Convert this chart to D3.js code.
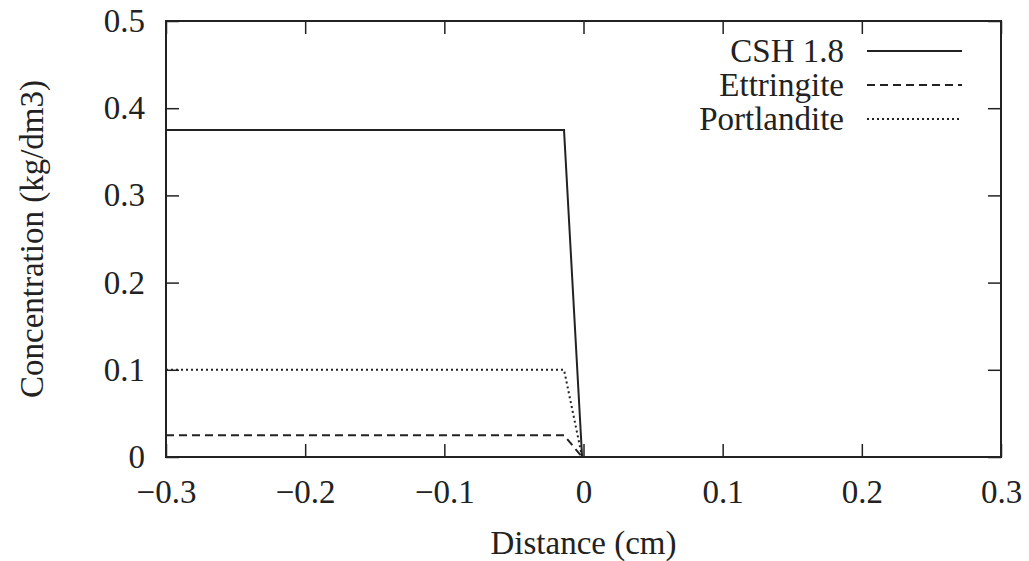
<!DOCTYPE html>
<html>
<head>
<meta charset="utf-8">
<script src="https://cdn.jsdelivr.net/npm/d3@7"></script>
<style>
  body { margin: 0; background: #fff; }
  svg text { font-family: "Liberation Serif", "Times New Roman", serif; fill: #222; }
</style>
</head>
<body>
<div class="chart"></div>
<script>
// distance (cm) and concentrations (kg/dm3)
const distance    = [-0.3, -0.014, -0.001, 0.3]
const csh         = [0.375, 0.375, 0, 0]
const ettringite  = [0.025, 0.025, 0, 0]
const portlandite = [0.1, 0.1, 0, 0]
const xTicks = [-0.3, -0.2, -0.1, 0, 0.1, 0.2, 0.3]
const yTicks = [0, 0.1, 0.2, 0.3, 0.4, 0.5]
const seriesNames = ['CSH 1.8', 'Ettringite', 'Portlandite']

const width = 1029
const height = 561
const margin = {top: 21, right: 28, bottom: 104, left: 166}
const plotW = width - margin.left - margin.right
const plotH = height - margin.top - margin.bottom
const tickLen = 13
const fontSize = 33

const series = [
  {name: seriesNames[0], values: csh, dash: null},
  {name: seriesNames[1], values: ettringite, dash: '8,5'},
  {name: seriesNames[2], values: portlandite, dash: '2,3'}
]

var xScale = d3.scaleLinear().domain([-0.3, 0.3]).range([0, plotW])
var yScale = d3.scaleLinear().domain([0, 0.5]).range([plotH, 0])

const fmt = d => d === 0 ? '0' : d3.format('.1f')(d).replace('-', '\u2212')

const svg = d3.select('.chart')
  .append('svg')
  .attr('width', width)
  .attr('height', height)

const g = svg.append('g')
  .attr('transform', 'translate(' + margin.left + ',' + margin.top + ')')

// axes with inward ticks, mirrored on top/right
g.append('g')
  .attr('transform', 'translate(0,' + plotH + ')')
  .call(d3.axisBottom(xScale).tickValues(xTicks).tickSize(-tickLen).tickPadding(23).tickFormat(fmt))
g.append('g')
  .call(d3.axisTop(xScale).tickValues(xTicks).tickSize(-tickLen).tickFormat(''))
g.append('g')
  .call(d3.axisLeft(yScale).tickValues(yTicks).tickSize(-tickLen).tickPadding(21).tickFormat(fmt))
g.append('g')
  .attr('transform', 'translate(' + plotW + ',0)')
  .call(d3.axisRight(yScale).tickValues(yTicks).tickSize(-tickLen).tickFormat(''))

g.selectAll('.domain').remove()
g.selectAll('.tick line').attr('stroke', '#222').attr('stroke-width', 1.5)
g.selectAll('.tick text').attr('font-size', fontSize).attr('fill', '#222')

// data lines
const line = d3.line()
  .x((d, i) => xScale(distance[i]))
  .y(d => yScale(d))

g.selectAll('.series')
  .data(series)
  .enter()
  .append('path')
  .attr('class', 'series')
  .attr('d', d => line(d.values))
  .attr('fill', 'none')
  .attr('stroke', '#222')
  .attr('stroke-width', 2)
  .attr('stroke-dasharray', d => d.dash)

// frame
g.append('rect')
  .attr('width', plotW)
  .attr('height', plotH)
  .attr('fill', 'none')
  .attr('stroke', '#222')
  .attr('stroke-width', 2)

// legend
var legend = g.selectAll('.legend')
  .data(series)
  .enter()
  .append('g')
  .attr('class', 'legend')
  .attr('transform', (d, i) => 'translate(0,' + (30 + i * 34) + ')')

legend.append('text')
  .attr('x', 678)
  .attr('y', 11)
  .attr('text-anchor', 'end')
  .attr('font-size', fontSize)
  .text(d => d.name)

legend.append('line')
  .attr('x1', 701)
  .attr('x2', 796)
  .attr('stroke', '#222')
  .attr('stroke-width', 2)
  .attr('stroke-dasharray', d => d.dash)

// axis titles
svg.append('text')
  .attr('x', margin.left + plotW / 2)
  .attr('y', 554)
  .attr('text-anchor', 'middle')
  .attr('font-size', fontSize)
  .text('Distance (cm)')

svg.append('text')
  .attr('transform', 'translate(43,' + (margin.top + plotH / 2) + ') rotate(-90)')
  .attr('text-anchor', 'middle')
  .attr('font-size', fontSize)
  .text('Concentration (kg/dm3)')
</script>
</body>
</html>
